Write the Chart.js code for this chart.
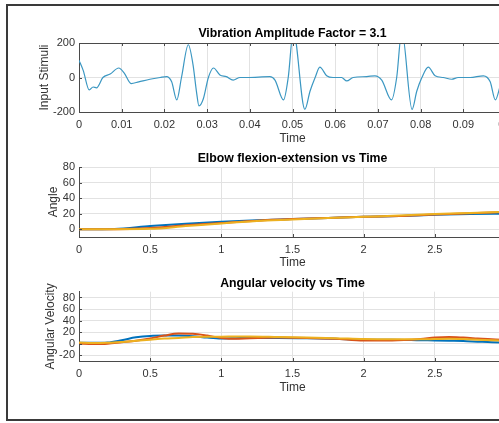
<!DOCTYPE html>
<html>
<head>
<meta charset="utf-8">
<script src="https://cdn.jsdelivr.net/npm/chart.js@4.4.0/dist/chart.umd.min.js"></script>
<style>
html,body{margin:0;padding:0;background:#fff;overflow:hidden;width:499px;height:423px}
#frame{position:absolute;left:6px;top:4px;width:620px;height:417px;box-sizing:border-box;border:2px solid #3a3a3a;border-right:none}
canvas{position:absolute;left:0}
.ttl{position:absolute;left:0;width:585px;text-align:center;font:bold 12.3px 'Liberation Sans',Arial,Helvetica,sans-serif;line-height:14px;color:#000;white-space:nowrap}
</style>
</head>
<body>
<div id="frame"></div>
<canvas id="c1" width="560" height="146" style="top:0px"></canvas>
<canvas id="c2" width="560" height="124" style="top:146px"></canvas>
<canvas id="c3" width="560" height="125" style="top:270px"></canvas>
<div class="ttl" id="t1" style="top:26px"></div>
<div class="ttl" id="t2" style="top:151px"></div>
<div class="ttl" id="t3" style="top:276px"></div>
<script>
// --- data ---
const stimT = [0,0.001,0.0024,0.0033,0.0041,0.0056,0.0073,0.0093,0.0106,0.0122,0.014,0.0166,0.019,0.0205,0.0217,0.0229,0.024,0.0256,0.0267,0.0275,0.0281,0.0291,0.0303,0.0315,0.033,0.0345,0.0361,0.0377,0.0394,0.0447,0.0459,0.0479,0.049,0.0502,0.0529,0.0541,0.0553,0.0564,0.058,0.0595,0.0615,0.0627,0.0642,0.0674,0.0693,0.0709,0.0732,0.0744,0.0756,0.078,0.0791,0.0803,0.0818,0.0834,0.0853,0.0873,0.0888,0.0916,0.0947,0.0963,0.0975,0.0985,0.1];
const stimV = [100,40,-72,-55,-60,0,20,55,25,-35,-25,-10,0,5,-25,-130,0,190,75,-80,-165,-125,0,55,15,5,-15,0,0,5,-15,-130,0,270,-185,-80,0,60,10,0,0,-20,0,5,10,-15,-130,0,270,-185,-80,0,60,10,0,-10,0,0,10,-25,-130,-60,100];

const angT = [0,0.25,0.5,0.75,1,1.25,1.5,1.75,2,2.25,2.5,2.75,3];
const angBlue = [0,0.3,4,7,9.5,11.5,13,14.5,16,17,18.5,19.5,20];
const angOrange = [0,0,1.5,5,8,11,13,14.5,16,17,19,20.5,22];
const angYellow = [0,0,0.5,4,7.5,10.5,12.5,14.5,16,17.5,19.5,21,22.5];

const velT = [0,0.1,0.2,0.3,0.4,0.5,0.6,0.7,0.8,0.9,1,1.1,1.2,1.4,1.6,1.8,2,2.2,2.4,2.5,2.6,2.7,2.8,2.9,3];
const velBlue = [1.5,1.5,2,6,11,13.5,14,14,13,10.5,9,9.5,10,10,9.5,8.5,7,7,6,5.5,5,4.5,3.5,2.5,2];
const velOrange = [0,-0.5,0,2.5,5,9,14,17.5,17,14,10,8.5,9.5,10.5,10,8.5,5.5,5.5,8,10.5,11.5,10.5,9,7.5,6.5];
const velYellow = [2,1,1.5,3,5,7,9,10,11.5,12,12,12.5,12.5,11.5,10.5,9.5,8,7.5,7.5,8,8.5,8,7,6,5];

const stimXTicks = [0,0.01,0.02,0.03,0.04,0.05,0.06,0.07,0.08,0.09,0.1];
const timeTicks = [0,0.5,1,1.5,2,2.5,3];
const stimYTicks = [-200,0,200];
const angYTicks = [0,20,40,60,80];
const velYTicks = [-20,0,20,40,60,80];

// --- style ---
const FONT = "'Liberation Sans', Arial, Helvetica, sans-serif";
const AXIS = '#4a4a4a', GRID = '#e2e2e2', TEXT = '#333';
const C_BLUE = '#0072BD', C_ORANGE = '#D95319', C_YELLOW = '#EDB120';

const pts = (xs, ys) => xs.map((x,i)=>({x, y:ys[i]}));

// MATLAB-style inward tick marks (+ top box line on the first axes)
const inTicks = {
  id:'inTicks',
  afterDraw(chart, args, opts){
    const {ctx, chartArea:a, scales:{x,y}} = chart;
    ctx.save();
    ctx.strokeStyle = AXIS; ctx.lineWidth = 1;
    ctx.beginPath();
    x.ticks.forEach(t=>{
      const px = Math.round(x.getPixelForValue(t.value))+0.5;
      ctx.moveTo(px, a.bottom); ctx.lineTo(px, a.bottom-3);
      if (opts.box){ ctx.moveTo(px, a.top); ctx.lineTo(px, a.top+3); }
    });
    y.ticks.forEach(t=>{
      const py = Math.round(y.getPixelForValue(t.value))+0.5;
      ctx.moveTo(a.left, py); ctx.lineTo(a.left+3, py);
    });
    if (opts.box){ ctx.moveTo(a.left, Math.round(a.top)+0.5); ctx.lineTo(a.right, Math.round(a.top)+0.5); }
    ctx.stroke();
    ctx.restore();
  }
};

// titles are html text, centred on the axes box (Chart.js would centre on the whole canvas)
function makeChart(id, cfg){
  document.getElementById(cfg.titleId).textContent = cfg.title;
  const tickFont = {family:FONT, size:11};
  const labFont = {family:FONT, size:12};
  const n = cfg.datasets.length;
  return new Chart(document.getElementById(id), {
    type:'line',
    data:{ datasets: cfg.datasets.map((d,i)=>({
      data:d.data, borderColor:d.color, borderWidth:d.width, pointRadius:0,
      cubicInterpolationMode:'monotone', fill:false, order:n-i
    })) },
    options:{
      responsive:false, animation:false, devicePixelRatio:1,
      layout:{ padding:{left:0, right:54, top:cfg.padTop, bottom:0} },
      plugins:{
        legend:{display:false}, tooltip:{enabled:false}, title:{display:false},
        inTicks:{ box:!!cfg.box }
      },
      scales:{
        x:{ type:'linear', min:cfg.xMin, max:cfg.xMax,
          afterBuildTicks: s => { s.ticks = cfg.xTicks.map(v=>({value:v})); },
          afterFit: s => { s.height = cfg.xHeight; },
          ticks:{ color:TEXT, font:tickFont, padding:6, autoSkip:false, maxRotation:0, callback:v=>String(v) },
          grid:{ color:GRID, drawTicks:false },
          border:{ display:true, color:AXIS, width:1 },
          title:{ display:true, text:'Time', color:TEXT, font:labFont, padding:{top:0,bottom:0} }
        },
        y:{ type:'linear', min:cfg.yMin, max:cfg.yMax,
          afterBuildTicks: s => { s.ticks = cfg.yTicks.map(v=>({value:v})); },
          afterFit: s => { s.width = 79; },
          ticks:{ color:TEXT, font:tickFont, padding:4, autoSkip:false, callback:v=>String(v) },
          grid:{ color:GRID, drawTicks:false },
          border:{ display:true, color:AXIS, width:1 },
          title:{ display:true, text:cfg.yLabel, color:TEXT, font:labFont, padding:{top:cfg.yTitlePad, bottom:0} }
        }
      }
    },
    plugins:[inTicks]
  });
}

makeChart('c1', {
  titleId:'t1', title:'Vibration Amplitude Factor = 3.1', padTop:43, box:true,
  xMin:0, xMax:0.1, xTicks:stimXTicks, xHeight:34,
  yMin:-200, yMax:200, yTicks:stimYTicks, yLabel:'Input Stimuli', yTitlePad:37,
  datasets:[{data:pts(stimT, stimV), color:'#3b97c2', width:1.2}]
});

makeChart('c2', {
  titleId:'t2', title:'Elbow flexion-extension vs Time', padTop:21,
  xMin:0, xMax:3, xTicks:timeTicks, xHeight:33,
  yMin:-10, yMax:80, yTicks:angYTicks, yLabel:'Angle', yTitlePad:46.5,
  datasets:[
    {data:pts(angT, angBlue), color:C_BLUE, width:2},
    {data:pts(angT, angOrange), color:C_ORANGE, width:2},
    {data:pts(angT, angYellow), color:C_YELLOW, width:2}
  ]
});

makeChart('c3', {
  titleId:'t3', title:'Angular velocity vs Time', padTop:21.7,
  xMin:0, xMax:3, xTicks:timeTicks, xHeight:34,
  yMin:-30, yMax:90, yTicks:velYTicks, yLabel:'Angular Velocity', yTitlePad:43.5,
  datasets:[
    {data:pts(velT, velBlue), color:C_BLUE, width:2},
    {data:pts(velT, velOrange), color:C_ORANGE, width:2},
    {data:pts(velT, velYellow), color:C_YELLOW, width:2}
  ]
});
</script>
</body>
</html>
